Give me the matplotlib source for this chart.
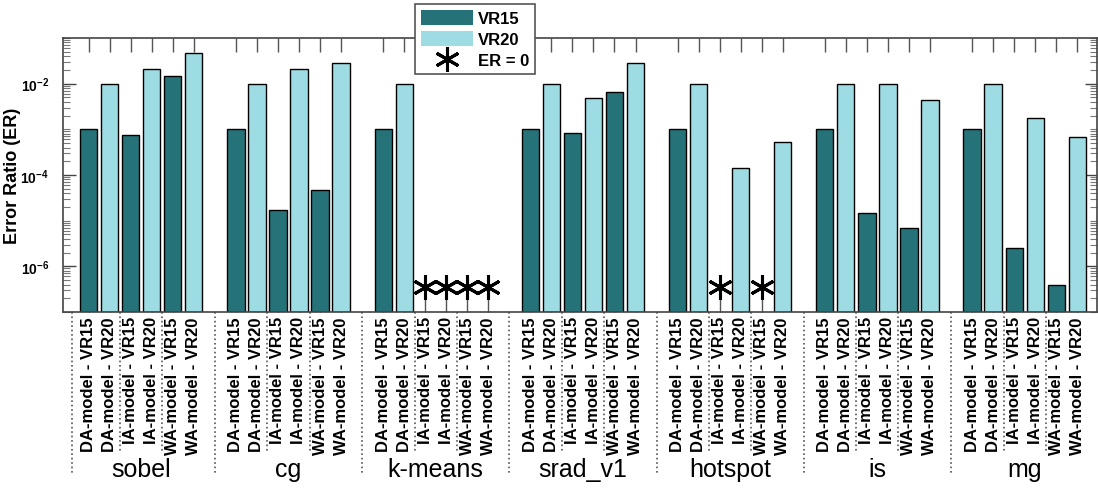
import numpy as np
import matplotlib
matplotlib.use("Agg")
import matplotlib.pyplot as plt
from matplotlib.patches import Patch
from matplotlib.lines import Line2D
from matplotlib.ticker import FixedLocator, FixedFormatter, LogLocator
import matplotlib.transforms as mtransforms

plt.rcParams['font.family'] = ['Liberation Sans', 'DejaVu Sans']
plt.rcParams['mathtext.fontset'] = 'custom'
plt.rcParams['mathtext.rm'] = 'Liberation Sans'
plt.rcParams['mathtext.bf'] = 'Liberation Sans:bold'

# Donnees (0 = ER nul, marque par une etoile)
benchmarks = ['sobel', 'cg', 'k-means', 'srad_v1', 'hotspot', 'is', 'mg']
models = ['DA-model', 'IA-model', 'WA-model']
series = ['VR15', 'VR20']

# ordre : pour chaque benchmark, DA, IA, WA
er_vr15 = [1e-3, 7.6e-4, 1.5e-2,
           1e-3, 1.7e-5, 4.7e-5,
           1e-3, 0, 0,
           1e-3, 8.5e-4, 6.6e-3,
           1e-3, 0, 0,
           1e-3, 1.45e-5, 6.9e-6,
           1e-3, 2.5e-6, 4e-7]
er_vr20 = [1e-2, 2.1e-2, 4.8e-2,
           1e-2, 2.1e-2, 2.9e-2,
           1e-2, 0, 0,
           1e-2, 4.9e-3, 2.9e-2,
           1e-2, 1.45e-4, 5.2e-4,
           1e-2, 1e-2, 4.5e-3,
           1e-2, 1.8e-3, 6.9e-4]

dark = '#257378'
light = '#9DDCE2'
ymin, ymax = 1e-7, 1e-1
star_y = 3.5e-7
star = (6, 2, 0)

fig = plt.figure(figsize=(10.98, 4.89), dpi=100)
ax = fig.add_axes([63/1098, 1-313/489, (1097-63)/1098, (313-39)/489])

xs, labels = [], []
for b in range(len(benchmarks)):
    for m in range(len(models)):
        for s, vals in enumerate([er_vr15, er_vr20]):
            x = b*7 + m*2 + s
            v = vals[b*3 + m]
            xs.append(x)
            labels.append(f'{models[m]} - {series[s]}')
            if v > 0:
                ax.bar(x, v - ymin, bottom=ymin, width=0.82,
                       color=dark if s == 0 else light,
                       edgecolor='black', linewidth=1.0, zorder=2)
            else:
                ax.plot(x, star_y, marker=star, markersize=18, mew=2.2,
                        color='black', linestyle='none', zorder=3)

ax.set_yscale('log')
ax.set_ylim(ymin, ymax)
ax.set_xlim(-1.22, 47.94)

ax.yaxis.set_major_locator(FixedLocator([1e-6, 1e-4, 1e-2]))
ax.yaxis.set_major_formatter(FixedFormatter([r'$\mathbf{10^{-6}}$',
                                             r'$\mathbf{10^{-4}}$',
                                             r'$\mathbf{10^{-2}}$']))
ax.yaxis.set_minor_locator(LogLocator(base=10, subs=np.arange(1, 10), numticks=30))
ax.yaxis.set_minor_formatter(plt.NullFormatter())
ax.tick_params(axis='y', which='major', direction='in', length=9, width=1,
               color='#444', labelsize=10, right=True, pad=10)
ax.tick_params(axis='y', which='minor', direction='in', length=5, width=0.8,
               color='#777', right=True)

ax.set_xticks(xs)
ax.set_xticklabels(labels, rotation=90, fontsize=12, fontweight='bold',
                   va='top', ha='center')
ax.tick_params(axis='x', direction='in', length=10, width=1, color='#555',
               top=True, pad=3)
for t in ax.xaxis.get_major_ticks():
    t.tick1line.set_zorder(4)

for sp in ax.spines.values():
    sp.set_color('#444')
    sp.set_linewidth(1.2)

ax.set_ylabel('Error Ratio (ER)', fontsize=13, fontweight='bold')
ax.yaxis.set_label_coords(-0.041, 0.5)

# Separateurs pointilles sous l'axe
trans = mtransforms.blended_transform_factory(ax.transData, ax.transAxes)
for b in range(len(benchmarks)):
    gx = b*7 - 1 if b > 0 else -0.78
    ax.add_line(Line2D([gx, gx], [0, -0.595], transform=trans, color='#555',
                       linestyle=':', linewidth=1.2, clip_on=False))
    for px in (b*7 + 1.5, b*7 + 3.5):
        ax.add_line(Line2D([px, px], [0, -0.51], transform=trans, color='#555',
                           linestyle=':', linewidth=1.2, clip_on=False))
    ax.text(b*7 + 2.5, -0.572, benchmarks[b], transform=trans, fontsize=18,
            ha='center', va='center')

handles = [Patch(facecolor=dark, edgecolor='none', label='VR15'),
           Patch(facecolor=light, edgecolor='none', label='VR20'),
           Line2D([], [], marker=star, markersize=18, mew=2.2, color='black',
                  linestyle='none', label='ER = 0')]
leg = fig.legend(handles=handles, loc='upper left',
                 bbox_to_anchor=(415/1098, 1-5/489), bbox_transform=fig.transFigure,
                 prop={'weight': 'bold', 'size': 12}, fancybox=False,
                 edgecolor='#555', framealpha=1, handlelength=3.1,
                 handleheight=1.0, labelspacing=0.3, borderpad=0.35,
                 handletextpad=0.35, borderaxespad=0)
leg.get_frame().set_linewidth(1.2)

fig.savefig('out.png', dpi=100)
